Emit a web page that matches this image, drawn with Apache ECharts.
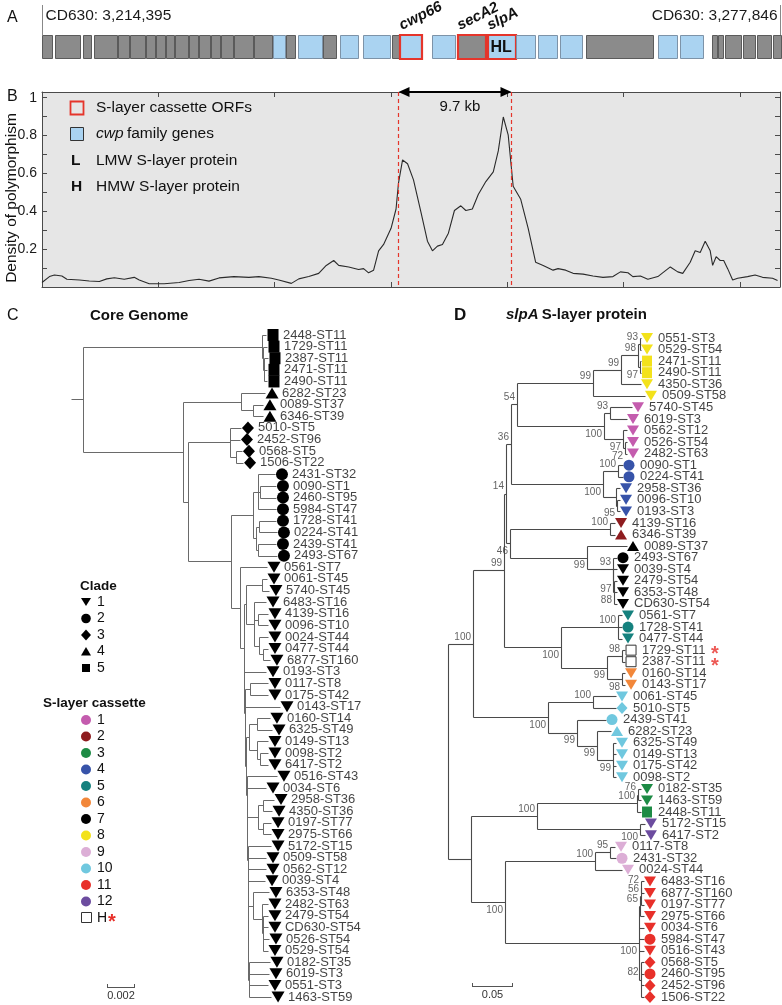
<!DOCTYPE html>
<html><head><meta charset="utf-8">
<script src="https://cdn.jsdelivr.net/npm/echarts@6/dist/echarts.min.js"></script>
<style>html,body{margin:0;padding:0;background:#fff}#c{width:782px;height:1005px}</style>
</head><body><div id="c"></div>
<script>
// ================= DATA =================
// Panel A: genomic region (CD630 coordinates) and ORFs (kb from region start)
const regionStart = 3214395;
const regionEnd = 3277846;
const geneStartKb = [0,1.12,3.53,4.47,6.53,7.57,8.94,9.80,10.66,11.44,12.64,13.50,14.53,15.39,16.51,18.23,19.86,20.98,22.01,24.16,25.62,27.52,30.09,30.70,33.45,35.68,38.26,40.67,42.56,44.45,46.69,52.88,54.77,57.52,58.04,58.64,60.19,61.39,62.77];
const geneEndKb   = [0.86,3.27,4.21,6.45,7.48,8.86,9.72,10.58,11.35,12.55,13.41,14.45,15.31,16.42,18.14,19.78,20.89,21.75,24.08,25.28,27.17,29.92,30.61,32.50,35.43,38.01,40.58,42.30,44.20,46.35,52.45,54.51,56.75,57.95,58.47,60.02,61.22,62.60,63.45];
const geneKind    = ['o','o','o','o','o','o','o','o','o','o','o','o','o','o','o','o','c','o','c','o','c','c','o','c','c','o','c','c','c','c','o','c','c','o','o','o','o','o','o'];
const cassetteGeneIdx  = [23,25,26];
const cassetteGeneName = ['cwp66','secA2','slpA'];
const slpAProteins = 'HL';

// Panel B: density of polymorphism along the region
const densityKb = [0,0.64,1.07,1.71,2.14,3.22,4.07,4.93,5.57,6.22,7.07,7.93,8.36,9.22,10.5,11.79,12.65,13.5,14.36,15.22,16.5,17.79,18.65,19.72,20.36,21.44,22.08,22.94,23.79,24.44,25.08,25.51,26.37,27.22,27.65,28.08,28.51,28.94,29.37,30.01,30.44,30.65,31.0,31.43,31.94,32.58,33.14,33.57,34.0,34.43,34.94,35.46,36.01,36.44,37.0,37.51,38.16,38.8,39.23,39.66,40.08,40.51,41.16,41.8,42.44,43.09,43.94,44.37,45.02,45.66,46.52,47.37,48.23,49.09,49.73,50.38,50.8,51.45,52.09,52.95,54.02,54.66,55.09,55.73,56.16,56.59,57.02,57.45,57.66,57.96,58.31,58.61,58.95,59.38,59.81,60.66,61.31,61.95,62.81,63.24];
const densityVal = [0.024,0.055,0.063,0.058,0.041,0.037,0.032,0.029,0.043,0.049,0.041,0.051,0.037,0.017,0.017,0.024,0.034,0.041,0.031,0.048,0.055,0.051,0.055,0.046,0.037,0.019,0.043,0.055,0.072,0.114,0.140,0.114,0.106,0.092,0.097,0.075,0.089,0.191,0.225,0.31,0.412,0.549,0.671,0.651,0.566,0.395,0.242,0.191,0.216,0.225,0.284,0.404,0.429,0.404,0.412,0.489,0.557,0.608,0.719,0.898,0.804,0.532,0.463,0.31,0.131,0.114,0.089,0.097,0.089,0.072,0.068,0.058,0.051,0.055,0.08,0.075,0.055,0.058,0.041,0.055,0.106,0.08,0.072,0.131,0.191,0.182,0.242,0.191,0.114,0.16,0.14,0.14,0.097,0.037,0.046,0.055,0.063,0.051,0.046,0.034];
const cassetteStartKb = 30.6;
const cassetteEndKb = 40.3;
const densityTicks = [0.2,0.4,0.6,0.8,1];

// Panel C: core genome tree. Number after ':' = distance from root, units of 0.0001 subst/site
const coreNewick = [
 '((',
 '(2448-ST11:139.3,(1729-ST11:140,(2387-ST11:140.7,2471-ST11:140,2490-ST11:140)c5b:137.9)c5a:137.1)C5:136.4,',
 '((6282-ST23:138.6,(0089-ST37:137.1,6346-ST39:137.1)c4b:130)C4:121.4,',
 '((5010-ST5:121.4,2452-ST96:120.7,(0568-ST5:122.1,1506-ST22:122.9)c3a:117.9)C3:113.6,',
 '(((2431-ST32:145.7,(0090-ST1:146.4,2460-ST95:146.4)c2c:135,5984-ST47:146.4)c2a:133.6,((1728-ST41:146.4,0224-ST41:147.1)c2d:134.3,(2439-ST41:146.4,2493-ST67:147.1)c2e:133.6)c2b:132.1)C2:130,',
 '(0561-ST7:140,(',
 '((0061-ST45:140,5740-ST45:141.4)a1:136.4,(6483-ST16:139.3,(4139-ST16:140.7,0096-ST10:140.7)a3:133.6,(0024-ST44:140.7,(0477-ST44:140.7,6877-ST160:142.1)a5:137.1)a4:134.3)a2:130.7)SA:125,',
 '(0193-ST3:139.3,',
 '((0117-ST8:140.7,0175-ST42:140.7)b1:127.9,',
 '(0143-ST17:149.3,',
 '(((0160-ST14:142.1,6325-ST49:143.6)c1:132.9,(0149-ST13:140.7,(0098-ST2:140.7,6417-ST2:140.7)c3:135)c2:132.9)Q3:127.1,',
 '(0516-ST43:147.1,',
 '(0034-ST6:139.3,',
 '(((2958-ST36:145,4350-ST36:143.6)d1:137.1,(0197-ST77:142.9,2975-ST66:142.9)d2:137.1)Q4:133.6,',
 '(5172-ST15:142.9,',
 '(0509-ST58:139.3,',
 '(0562-ST12:139.3,',
 '(0039-ST4:138.6,',
 '((6353-ST48:141.4,(2482-ST63:140.7,(2479-ST54:140.7,CD630-ST54:140.7,0526-ST54:141.4,0529-ST54:140.7)e2:137.1)e1:136.4)Q5:130,',
 '(0182-ST35:142.1,6019-ST3:141.4,0551-ST3:140.7,1463-ST59:142.9)E:127.1)L12:126.4',
 ')L11:126.4)L10:126.4)L9:126.1)L8:126.1)L7:125.7)L6:125.7)L5:125.4)L4:125)L3:124.6)L2:124.3)L1:123.9',
 ')P:123.6)C1:120.7',
 ')Z:114.3)Y:83.6)X:80',
 ')R:8.6)S:0'
].join('');
const cLeafClade = [5,5,5,5,5,4,4,4,3,3,
 3,3,2,2,2,2,2,2,2,2,
 1,1,1,1,1,1,1,1,1,1,
 1,1,1,1,1,1,1,1,1,1,
 1,1,1,1,1,1,1,1,1,1,
 1,1,1,1,1,1,1,1];
const coreScaleLen = 20; // 0.002

// Panel D: slpA tree. Number after ':' = distance from root, units of 0.001 subst/site
const slpaNewick = [
 '((((((',
 '((((0551-ST3:235.4,0529-ST54:235.4)Yn93:234.1,(2471-ST11:235.4,2490-ST11:235.4)Yn97:234.1)Yn98:231.7,4350-ST36:235.4)Y99b:211,0509-ST58:240.2)Y99:176.8,',
 '((5740-ST45:224.4,6019-ST3:218.3)M93:197.6,(0562-ST12:218.3,(0526-ST54:218.3,2482-ST63:218.3)M72:215.9)M97:213.4)Mag:190.2',
 ')N54:84.1,',
 '((0090-ST1:213.4,0224-ST41:213.4)B100a:207.3,(2958-ST36:209.8,(0096-ST10:209.8,0193-ST3:209.8)B95:206.1)Bt:204.9)Blue:189',
 ')N36:76.8,',
 '((4139-ST16:203.7,6346-ST39:203.7)DR:197.6,(0089-ST37:218.3,(2493-ST67:206.1,(0039-ST4:206.1,(2479-ST54:206.1,6353-ST48:206.1,CD630-ST54:206.1)Bk88:202.4)Bk97:201.8)Bk93:201.2)Bk99:169.5)N46:75.6',
 ')N14:70.7,',
 '((0561-ST7:212.2,1728-ST41:212.2,0477-ST44:212.2)Teal:207.3,((1729-ST11:215.9,2387-ST11:215.9)Sq98:212.2,(0160-ST14:215.9,0143-ST17:215.9)Or98:212.2)O99:193.9)T:137.8',
 ')N99:68.3,',
 '((0061-ST45:204.9,5010-ST5:204.9)LB100:176.8,(2439-ST41:192.7,(6282-ST23:198.8,(6325-ST49:204.9,0149-ST13:204.9,0175-ST42:204.9,0098-ST2:204.9)LB99c:201.2)LB99b:181.7)LB99a:157.3)LB:122',
 ')A:30.5,(',
 '(((0182-ST35:235.4,1463-ST59:235.4)G76:231.7,2448-ST11:235.4)Gn:230.5,(5172-ST15:240.2,6417-ST2:240.2)Pu:234.1)G:108.5,',
 '(((0117-ST8:203.7,2431-ST32:204.9)Pk95:197.6,0024-ST44:212.2)Pink:179.3,',
 '((((6483-ST16:239,6877-ST160:239)R72:235.4,0197-ST77:239)R56:235.4,2975-ST66:239)R65:234.1,0034-ST6:239,5984-ST47:239,0516-ST43:239,(0568-ST5:239,2460-ST95:239,2452-ST96:239,1506-ST22:239)R82:234.8)Red:232.9',
 ')RP:69.5',
 ')B:28)R:0'
].join('');
const slpaBootstrap = {Yn93:93,Yn97:97,Yn98:98,Y99b:99,Y99:99,M93:93,M72:72,M97:97,Mag:100,N54:54,B100a:100,B95:95,Blue:100,N36:36,DR:100,Bk88:88,Bk97:97,Bk93:93,Bk99:99,N46:46,N14:14,Teal:100,Sq98:98,Or98:98,O99:99,T:100,N99:99,LB100:100,LB99c:99,LB99b:99,LB99a:99,LB:100,A:100,G76:76,Gn:100,Pu:100,G:100,Pk95:95,Pink:100,R72:72,R56:56,R65:65,R82:82,Red:100,RP:100};
const dLeafCassette = [8,8,8,8,8,8,1,1,1,1,
 1,4,4,4,4,4,2,2,7,7,
 7,7,7,7,5,5,5,'H','H',6,
 6,10,10,10,10,10,10,10,10,3,
 3,3,12,12,9,9,9,11,11,11,
 11,11,11,11,11,11,11,11];
const slpaScaleLen = 50; // 0.05
const cladeIds = [1,2,3,4,5];
const cassetteIds = [1,2,3,4,5,6,7,8,9,10,11,12];

// ================= STYLE =================
const FONT = '"Liberation Sans", Arial, Helvetica, sans-serif';
const cassetteColor = {1:'#c45cae',2:'#8e1c1f',3:'#1d8b45',4:'#3753a9',5:'#15817e',6:'#f2873a',7:'#000000',8:'#f3e21b',9:'#dcaed6',10:'#70c8df',11:'#e8302a',12:'#6c4c9f'};
const bootBelow = ['Yn97','Mag','M97','M72','Blue','B95','N46','Bk99','Bk97','Bk88','T','O99','Or98','LB','LB99a','LB99b','LB99c','Pu','RP','Red'];
const SYM = {1:'path://M0,0L12,0L6,10Z', 2:'circle', 3:'diamond', 4:'path://M6,0L12,10L0,10Z', 5:'rect'};
const SIZE_C = {1:[13,11], 2:12, 3:[12,13], 4:[13,11], 5:[11,12]};
const SIZE_D = {1:[12,10], 2:11, 3:[11,12], 4:[12,10], 5:[10,11]};

// ================= TREE HELPERS =================
function parseNewick(str) {
  const s = str.replace(/\s+/g, ''); let i = 0;
  function node() {
    const n = {children: [], name: '', depth: 0};
    if (s[i] === '(') {
      i++; n.children.push(node());
      while (s[i] === ',') { i++; n.children.push(node()); }
      i++;
    }
    while (i < s.length && ':,()'.indexOf(s[i]) < 0) n.name += s[i++];
    if (s[i] === ':') { i++; let num = ''; while (i < s.length && ',()'.indexOf(s[i]) < 0) num += s[i++]; n.depth = parseFloat(num); }
    return n;
  }
  return node();
}
function layoutTree(str) {
  const root = parseNewick(str); const leaves = [], internals = [], segs = [];
  (function walk(n) {
    if (!n.children.length) { n.y = leaves.length; leaves.push(n); return; }
    n.children.forEach(walk);
    n.y = (n.children[0].y + n.children[n.children.length - 1].y) / 2;
    internals.push(n);
  })(root);
  internals.forEach(n => {
    const a = n.children[0], b = n.children[n.children.length - 1];
    if (a !== b) segs.push([n.depth, a.y, n.depth, b.y]);
    n.children.forEach(c => segs.push([n.depth, c.y, c.depth, c.y]));
  });
  return {leaves, internals, segs};
}
const C = layoutTree(coreNewick);
const D = layoutTree(slpaNewick);
const cladeByStrain = {};
C.leaves.forEach((l, i) => { cladeByStrain[l.name] = cLeafClade[i]; });

function segRender(color, width) {
  return function (params, api) {
    const a = api.coord([api.value(0), api.value(1)]), b = api.coord([api.value(2), api.value(3)]);
    const r = v => Math.round(v) + 0.5;
    return {type: 'line', silent: true, shape: {x1: r(a[0]), y1: r(a[1]), x2: r(b[0]), y2: r(b[1])}, style: {stroke: color, lineWidth: width}};
  };
}

// ================= SERIES =================
const totalKb = (regionEnd - regionStart) / 1000;
const geneData = geneStartKb.map((s, i) => [s, geneEndKb[i], geneKind[i] === 'c' ? 1 : 0, cassetteGeneIdx.indexOf(i)]);

const series = [];
// Panel A genes
series.push({
  type: 'custom', xAxisIndex: 0, yAxisIndex: 0, clip: false, silent: true, data: geneData,
  renderItem(params, api) {
    const s = api.coord([api.value(0), 1]), e = api.coord([api.value(1), 0]);
    const x0 = Math.round(s[0]) + 0.5, y0 = Math.round(s[1]) + 0.5;
    const w = Math.round(e[0]) - Math.round(s[0]), h = Math.round(e[1]) - Math.round(s[1]);
    const cwp = api.value(2) === 1, ci = api.value(3);
    const ch = [{type: 'rect', shape: {x: x0, y: y0, width: w, height: h},
      style: {fill: cwp ? '#aad3f1' : '#8b8b8b', stroke: cwp ? '#7d93a8' : '#5b5b5b', lineWidth: 1}}];
    if (ci >= 0) {
      ch.push({type: 'rect', shape: {x: x0 - 0.5, y: y0 - 0.5, width: w + 1, height: h + 1}, style: {fill: 'none', stroke: '#e5352b', lineWidth: 2.2}});
      ch.push({type: 'text', x: s[0] + 4, y: s[1] - 2, rotation: 26.6 * Math.PI / 180,
        style: {text: cassetteGeneName[ci], font: 'italic bold 15px ' + FONT, fill: '#111', align: 'left', verticalAlign: 'bottom', textAlign: 'left', textVerticalAlign: 'bottom'}});
      if (cassetteGeneName[ci] === 'slpA') {
        ch.push({type: 'text', x: (s[0] + e[0]) / 2, y: (s[1] + e[1]) / 2 + 1,
          style: {text: slpAProteins, font: 'bold 16px ' + FONT, fill: '#111', align: 'center', verticalAlign: 'middle', textAlign: 'center', textVerticalAlign: 'middle'}});
      }
    }
    return {type: 'group', children: ch};
  }
});
// Panel A region ends
series.push({
  type: 'custom', xAxisIndex: 0, yAxisIndex: 0, clip: false, silent: true,
  data: [[0, regionStart, 0], [totalKb, regionEnd, 1]],
  renderItem(params, api) {
    const p = api.coord([api.value(0), 1]); const right = api.value(2) === 1;
    const x = Math.round(p[0]) + (right ? -0.5 : 0.5);
    return {type: 'group', children: [
      {type: 'line', shape: {x1: x, y1: p[1], x2: x, y2: p[1] - 30}, style: {stroke: '#888', lineWidth: 1}},
      {type: 'text', x: x + (right ? -3 : 3), y: p[1] - 19,
        style: {text: 'CD630: ' + api.value(1).toLocaleString('en-US'), font: '15.5px ' + FONT, fill: '#1a1a1a',
          align: right ? 'right' : 'left', verticalAlign: 'middle', textAlign: right ? 'right' : 'left', textVerticalAlign: 'middle'}}
    ]};
  }
});
// Panel B curve
series.push({
  type: 'line', xAxisIndex: 1, yAxisIndex: 1, silent: true, symbol: 'none', showSymbol: false,
  data: densityKb.map((k, i) => [k, densityVal[i]]),
  lineStyle: {color: '#2a2a2a', width: 1.1}, z: 3
});
// Panel B cassette bounds + arrow
series.push({
  type: 'custom', xAxisIndex: 1, yAxisIndex: 1, clip: false, silent: true, z: 4,
  data: [[cassetteStartKb, cassetteEndKb]],
  renderItem(params, api) {
    const t1 = api.coord([api.value(0), 1.03]), b1 = api.coord([api.value(0), 0]);
    const t2 = api.coord([api.value(1), 1.03]), b2 = api.coord([api.value(1), 0]);
    const y = Math.round(t1[1]);
    const x1 = Math.round(t1[0]) + 0.5, x2 = Math.round(t2[0]) + 0.5;
    const label = (api.value(1) - api.value(0)).toFixed(1) + ' kb';
    return {type: 'group', children: [
      {type: 'line', shape: {x1: x1, y1: t1[1], x2: x1, y2: b1[1]}, style: {stroke: '#e5352b', lineWidth: 1.2, lineDash: [4, 3]}},
      {type: 'line', shape: {x1: x2, y1: t2[1], x2: x2, y2: b2[1]}, style: {stroke: '#e5352b', lineWidth: 1.2, lineDash: [4, 3]}},
      {type: 'line', shape: {x1: x1 + 8, y1: y, x2: x2 - 8, y2: y}, style: {stroke: '#000', lineWidth: 2}},
      {type: 'polygon', shape: {points: [[x1, y], [x1 + 11, y - 5], [x1 + 11, y + 5]]}, style: {fill: '#000'}},
      {type: 'polygon', shape: {points: [[x2, y], [x2 - 11, y - 5], [x2 - 11, y + 5]]}, style: {fill: '#000'}},
      {type: 'text', x: (x1 + x2) / 2 + 5, y: y + 15, style: {text: label, font: '15px ' + FONT, fill: '#111', align: 'center', verticalAlign: 'middle', textAlign: 'center', textVerticalAlign: 'middle'}}
    ]};
  }
});

// Tree series builder
function treeSeries(T, axis, lineColor, lineW, symSize, symOffset, cassette) {
  const out = [];
  out.push({type: 'custom', xAxisIndex: axis, yAxisIndex: axis, clip: false, silent: true, data: T.segs, renderItem: segRender(lineColor, lineW)});
  out.push({
    type: 'scatter', xAxisIndex: axis, yAxisIndex: axis, clip: false, silent: true, z: 5,
    data: T.leaves.map((l, i) => {
      const cl = cladeByStrain[l.name];
      const cas = cassette ? cassette[i] : 7;
      if (cas === 'H') return {value: [l.depth, l.y], symbol: 'rect', symbolSize: [10, 10], itemStyle: {color: '#fff', borderColor: '#333', borderWidth: 1, opacity: 1}};
      return {value: [l.depth, l.y], symbol: SYM[cl], symbolSize: symSize[cl], symbolKeepAspect: false, itemStyle: {color: cassetteColor[cas], opacity: 1}};
    }),
    itemStyle: {opacity: 1},
    symbolOffset: [symOffset, 0]
  });
  out.push({
    type: 'scatter', xAxisIndex: axis, yAxisIndex: axis, clip: false, silent: true, z: 6, symbolSize: 0,
    data: T.leaves.map((l, i) => ({value: [l.depth, l.y], name: l.name, h: cassette && cassette[i] === 'H'})),
    label: {show: true, position: 'right', distance: 17,
      formatter: p => p.data.h ? '{n|' + p.name + '}{s| *}' : '{n|' + p.name + '}',
      rich: {n: {fontSize: 13, color: '#111', fontFamily: FONT},
             s: {fontSize: 20, fontWeight: 'bold', color: '#e8302a', fontFamily: FONT, padding: [9, 0, 0, 0]}}}
  });
  return out;
}
series.push(...treeSeries(C, 3, '#6a6a6a', 1, SIZE_C, 7, null));
series.push(...treeSeries(D, 4, '#4a4a4a', 1.1, SIZE_D, 6, dLeafCassette));
// Bootstrap values
series.push({
  type: 'scatter', xAxisIndex: 4, yAxisIndex: 4, clip: false, silent: true, z: 6, symbolSize: 0,
  data: D.internals.filter(n => slpaBootstrap[n.name] != null).map(n => ({
    value: [n.depth, n.y], name: String(slpaBootstrap[n.name]),
    label: {offset: [0, bootBelow.indexOf(n.name) >= 0 ? 8 : -7]}})),
  label: {show: true, position: 'left', distance: 2, formatter: '{b}', fontSize: 10, color: '#3a3a3a', fontFamily: FONT}
});
// Scale bars
function scaleSeries(axis, len, text, px, py) {
  return {
    type: 'custom', xAxisIndex: axis, yAxisIndex: axis, clip: false, silent: true, data: [[len]],
    renderItem(params, api) {
      const w = api.size([api.value(0), 0])[0];
      return {type: 'group', children: [
        {type: 'line', shape: {x1: px, y1: py + 0.5, x2: px + w, y2: py + 0.5}, style: {stroke: '#555', lineWidth: 1}},
        {type: 'line', shape: {x1: px + 0.5, y1: py - 3, x2: px + 0.5, y2: py + 1}, style: {stroke: '#555', lineWidth: 1}},
        {type: 'line', shape: {x1: px + w - 0.5, y1: py - 3, x2: px + w - 0.5, y2: py + 1}, style: {stroke: '#555', lineWidth: 1}},
        {type: 'text', x: px + w / 2, y: py + 9, style: {text: text, font: '11px ' + FONT, fill: '#333', align: 'center', verticalAlign: 'middle', textAlign: 'center', textVerticalAlign: 'middle'}}
      ]};
    }
  };
}
series.push(scaleSeries(3, coreScaleLen, '0.002', 107, 987));
series.push(scaleSeries(4, slpaScaleLen, '0.05', 472, 986));

// ================= GRAPHIC (titles, legends) =================
const G = [];
function txt(x, y, text, font, opt) {
  opt = opt || {};
  const el = {type: 'text', x: x, y: y, silent: true, style: Object.assign({text: text, font: font + ' ' + FONT, fill: opt.fill || '#111',
    align: opt.align || 'left', verticalAlign: 'middle', textAlign: opt.align || 'left', textVerticalAlign: 'middle'}, opt.style || {})};
  if (opt.rotation) el.rotation = opt.rotation;
  G.push(el);
}
txt(7, 18, 'A', '16px');
txt(7, 97, 'B', '16px');
txt(7, 316, 'C', '16px');
txt(454, 315, 'D', 'bold 17px');
txt(90, 316, 'Core Genome', 'bold 15px');
G.push({type: 'text', x: 506, y: 315, silent: true, style: {text: '{i|slpA} {b|S-layer protein}', align: 'left', verticalAlign: 'middle', textAlign: 'left', textVerticalAlign: 'middle',
  rich: {i: {font: 'italic bold 15px ' + FONT, fill: '#111'}, b: {font: 'bold 15px ' + FONT, fill: '#111'}}}});
txt(12, 198, 'Density of polymorphism', '15.5px', {align: 'center', rotation: Math.PI / 2});
// Panel B legend
G.push({type: 'rect', silent: true, shape: {x: 70.5, y: 101.5, width: 13, height: 13}, style: {fill: '#e6e6e6', stroke: '#e5352b', lineWidth: 1.8}});
txt(96, 108, 'S-layer cassette ORFs', '15.5px');
G.push({type: 'rect', silent: true, shape: {x: 70.5, y: 127.5, width: 13, height: 13}, style: {fill: '#aad3f1', stroke: '#333', lineWidth: 1}});
G.push({type: 'text', x: 96, y: 134, silent: true, style: {text: '{i|cwp} {n|family genes}', align: 'left', verticalAlign: 'middle', textAlign: 'left', textVerticalAlign: 'middle',
  rich: {i: {font: 'italic 15.5px ' + FONT, fill: '#111'}, n: {font: '15.5px ' + FONT, fill: '#111'}}}});
txt(71, 161, 'L', 'bold 15.5px');
txt(96, 161, 'LMW S-layer protein', '15.5px');
txt(71, 187, 'H', 'bold 15.5px');
txt(96, 187, 'HMW S-layer protein', '15.5px');
// Panel C legends
txt(80, 586, 'Clade', 'bold 13.5px');
const legendShape = {
  1: y => ({type: 'polygon', shape: {points: [[81, y - 4], [91, y - 4], [86, y + 4]]}}),
  2: y => ({type: 'circle', shape: {cx: 86, cy: y, r: 4.8}}),
  3: y => ({type: 'polygon', shape: {points: [[86, y - 5.5], [91, y], [86, y + 5.5], [81, y]]}}),
  4: y => ({type: 'polygon', shape: {points: [[86, y - 4.5], [91, y + 4], [81, y + 4]]}}),
  5: y => ({type: 'rect', shape: {x: 82, y: y - 4, width: 8, height: 8}})
};
cladeIds.forEach((c, k) => {
  const y = 602 + k * 16.5;
  const el = legendShape[c](y); el.silent = true; el.style = {fill: '#000'}; G.push(el);
  txt(97, y, String(c), '14px');
});
txt(43, 703, 'S-layer cassette', 'bold 13.5px');
cassetteIds.forEach((c, k) => {
  const y = 720 + k * 16.5;
  G.push({type: 'circle', silent: true, shape: {cx: 86, cy: y, r: 5}, style: {fill: cassetteColor[c]}});
  txt(97, y, String(c), '14px');
});
const yH = 720 + cassetteIds.length * 16.5;
G.push({type: 'rect', silent: true, shape: {x: 81.5, y: yH - 5.5, width: 10, height: 10}, style: {fill: '#fff', stroke: '#333', lineWidth: 1}});
txt(97, yH, 'H', '14px');
txt(108, yH + 4, '*', 'bold 20px', {fill: '#e8302a'});

// ================= OPTION =================
const gridBase = {containLabel: false, outerBoundsMode: 'none'};
const yFmt = v => {
  const t = Math.round(v * 10);
  if (Math.abs(v * 10 - t) > 1e-6) return '';
  const val = t / 10;
  return densityTicks.indexOf(val) >= 0 ? (val === 1 ? '1' : val.toFixed(1)) : '';
};
const boxAxisLine = {show: true, onZero: false, lineStyle: {color: '#4a4a4a', width: 1}};
const boxTick = {show: true, inside: true, length: 5, lineStyle: {color: '#4a4a4a', width: 1}};
const option = {
  animation: false,
  backgroundColor: '#ffffff',
  textStyle: {fontFamily: FONT},
  grid: [
    Object.assign({left: 42, top: 35, width: 739, height: 23}, gridBase),
    Object.assign({left: 42, top: 92, width: 738, height: 195, show: true, backgroundColor: '#e6e6e6', borderWidth: 0}, gridBase),
    Object.assign({left: 71, top: 335, width: 329, height: 662}, gridBase),
    Object.assign({left: 448, top: 338, width: 328, height: 659}, gridBase)
  ],
  xAxis: [
    {gridIndex: 0, type: 'value', min: 0, max: totalKb, show: false},
    {gridIndex: 1, type: 'value', min: 0, max: totalKb, interval: 10, position: 'bottom', axisLine: boxAxisLine, axisTick: boxTick, axisLabel: {show: false}, splitLine: {show: false}},
    {gridIndex: 1, type: 'value', min: 0, max: totalKb, interval: 10, position: 'top', axisLine: boxAxisLine, axisTick: boxTick, axisLabel: {show: false}, splitLine: {show: false}},
    {gridIndex: 2, type: 'value', min: 0, max: 235, show: false},
    {gridIndex: 3, type: 'value', min: 0, max: 400, show: false}
  ],
  yAxis: [
    {gridIndex: 0, type: 'value', min: 0, max: 1, show: false},
    {gridIndex: 1, type: 'value', min: 0, max: 1.03, interval: 0.1, position: 'left', axisLine: boxAxisLine, axisTick: boxTick,
      axisLabel: {show: true, formatter: yFmt, fontSize: 14, color: '#1a1a1a', margin: 5, fontFamily: FONT, showMaxLabel: false, showMinLabel: false}, splitLine: {show: false}},
    {gridIndex: 1, type: 'value', min: 0, max: 1.03, interval: 0.1, position: 'right', axisLine: boxAxisLine, axisTick: boxTick, axisLabel: {show: false}, splitLine: {show: false}},
    {gridIndex: 2, type: 'value', min: 0, max: 57, inverse: true, show: false},
    {gridIndex: 3, type: 'value', min: 0, max: 57, inverse: true, show: false}
  ],
  series: series,
  graphic: {elements: G}
};
const chart = echarts.init(document.getElementById('c'), null, {renderer: 'canvas', width: 782, height: 1005});
chart.setOption(option);
</script></body></html>
